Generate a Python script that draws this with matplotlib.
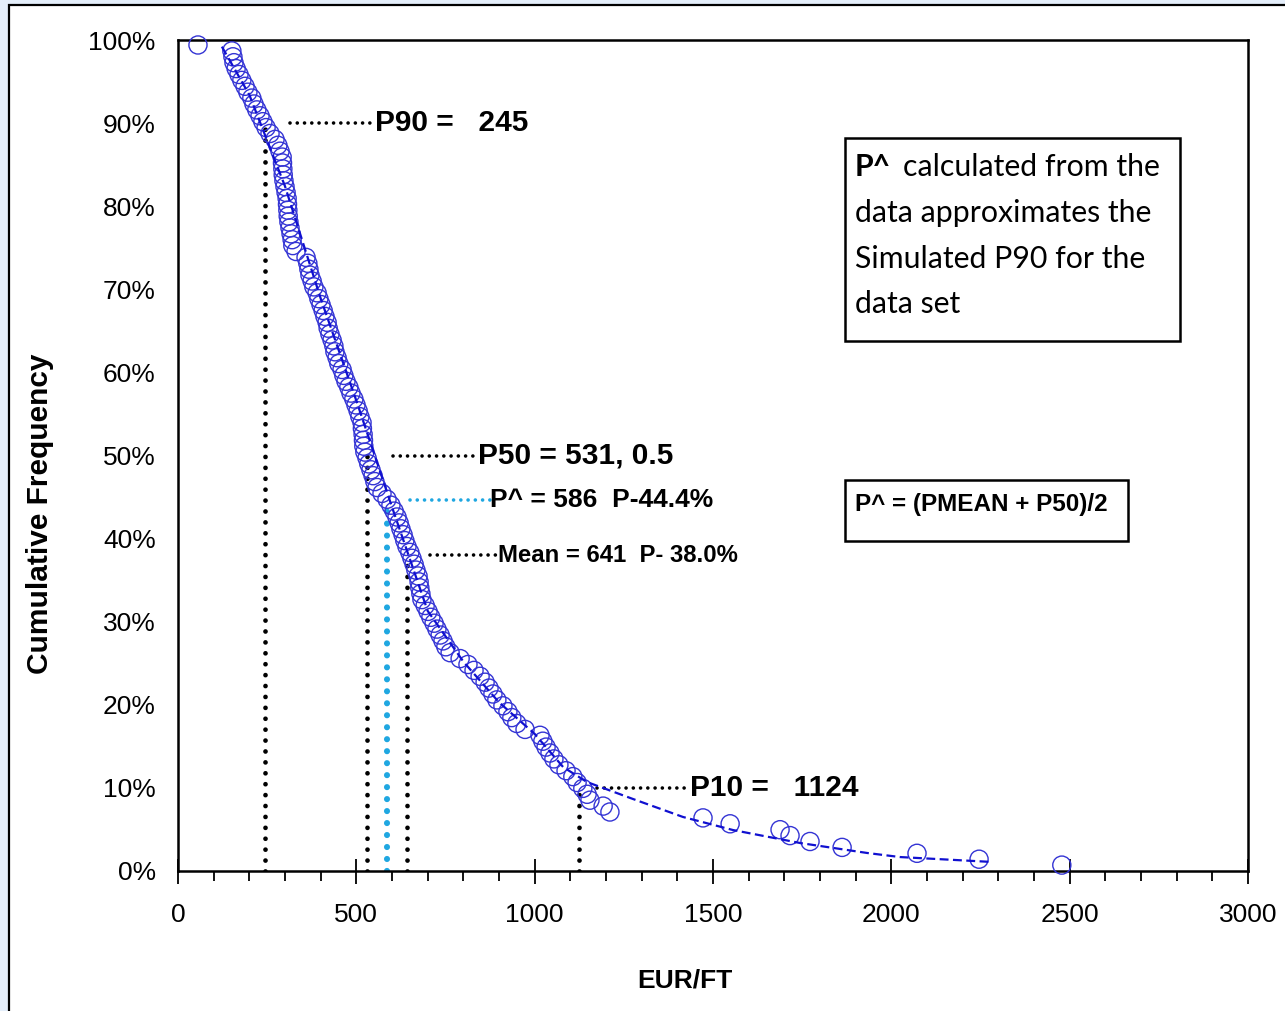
import matplotlib
matplotlib.use("Agg")
import matplotlib.pyplot as plt
from matplotlib.patches import Rectangle
from matplotlib.ticker import MultipleLocator, FuncFormatter

# sample points (EUR/FT vs cumulative frequency in %)
eur_ft = [56, 151, 154, 157, 163, 171, 179, 188, 196, 207,
          213, 221, 230, 238, 247, 258, 272, 280, 286, 292,
          293, 294, 295, 297, 300, 303, 306, 307, 308, 309,
          311, 314, 317, 320, 322, 331, 359, 364, 367, 370,
          376, 381, 390, 395, 401, 407, 412, 418, 421, 426,
          432, 437, 440, 446, 451, 460, 465, 471, 479, 485,
          493, 499, 505, 510, 516, 517, 519, 520, 521, 524,
          530, 535, 541, 547, 552, 558, 572, 586, 597, 606,
          614, 620, 625, 631, 636, 642, 650, 656, 662, 667,
          673, 676, 678, 681, 684, 693, 701, 709, 718, 726,
          735, 743, 751, 763, 791, 813, 830, 847, 861, 872,
          883, 894, 911, 925, 936, 950, 973, 1015, 1023, 1032,
          1043, 1054, 1068, 1088, 1107, 1119, 1135, 1147, 1155, 1192,
          1211, 1472, 1548, 1688, 1716, 1772, 1862, 2072, 2246, 2478]
cum_freq = [99.40, 98.69, 97.98, 97.27, 96.56, 95.85, 95.14, 94.43, 93.72, 93.01,
            92.30, 91.59, 90.88, 90.17, 89.46, 88.75, 88.04, 87.33, 86.62, 85.91,
            85.20, 84.49, 83.78, 83.07, 82.36, 81.65, 80.94, 80.23, 79.52, 78.81,
            78.10, 77.39, 76.68, 75.97, 75.26, 74.55, 73.84, 73.13, 72.42, 71.71,
            71.00, 70.29, 69.58, 68.87, 68.16, 67.45, 66.74, 66.03, 65.32, 64.61,
            63.90, 63.19, 62.48, 61.77, 61.06, 60.35, 59.64, 58.93, 58.22, 57.51,
            56.80, 56.09, 55.38, 54.67, 53.96, 53.25, 52.54, 51.83, 51.12, 50.41,
            49.70, 48.99, 48.28, 47.57, 46.86, 46.15, 45.44, 44.73, 44.02, 43.31,
            42.60, 41.89, 41.18, 40.47, 39.76, 39.05, 38.34, 37.63, 36.92, 36.21,
            35.50, 34.79, 34.08, 33.37, 32.66, 31.95, 31.24, 30.53, 29.82, 29.11,
            28.40, 27.69, 26.98, 26.27, 25.56, 24.85, 24.14, 23.43, 22.72, 22.01,
            21.30, 20.59, 19.88, 19.17, 18.46, 17.75, 17.04, 16.33, 15.62, 14.91,
            14.20, 13.49, 12.78, 12.07, 11.36, 10.65, 9.94, 9.23, 8.52, 7.81,
            7.10, 6.39, 5.68, 4.97, 4.26, 3.55, 2.84, 2.13, 1.42, 0.71]

# fitted curve
fit_x = [123, 200, 300, 400, 500, 600, 700, 800, 900, 1000,
         1080, 1147, 1276, 1416, 1556, 1744, 1932, 2024, 2277]
fit_y = [99.2, 93.4, 82.4, 68.9, 56.6, 43.8, 31.3, 25.2, 20.3, 16.5,
         12.5, 10.7, 8.66, 6.5, 4.93, 3.37, 2.17, 1.68, 1.1]

# percentile markers: value, level (%)
p90 = (245, 90.0)
p50 = (531, 50.0)
p_hat = (586, 44.4)
p_mean = (641, 38.0)
p10 = (1124, 10.0)

plt.rcParams['font.family'] = ['Liberation Sans', 'DejaVu Sans']

W, H = 1285, 1011
fig = plt.figure(figsize=(W / 100, H / 100), dpi=100, facecolor='#e4eefa')

# white page with black frame (cut off at right/bottom)
fig.patches.append(Rectangle((9 / W, -0.05), 1.1, 1 - 5 / H + 0.05, transform=fig.transFigure,
                             facecolor='white', edgecolor='black', linewidth=1.6, zorder=-5))

ax = fig.add_axes([178 / W, 1 - 871 / H, 1070 / W, 831 / H])
ax.set_facecolor('white')

blue = '#3434d4'
ax.scatter(eur_ft, cum_freq, s=170, facecolors='none', edgecolors=blue, linewidths=1.0,
           zorder=3, clip_on=False)
ax.plot(fit_x, fit_y, color='#1010d0', linestyle=(0, (4, 2)), linewidth=1.6, zorder=4)

# vertical dotted lines down to the axis
for val, lvl in [p90, p50, p_mean, p10]:
    ax.plot([val, val], [0, lvl], color='black', linewidth=3.4, linestyle=(0, (0.01, 2.3)),
            dash_capstyle='round', zorder=2)
ax.plot([p_hat[0], p_hat[0]], [0, p_hat[1]], color='#1fa7e1', linewidth=4.4,
        linestyle=(0, (0.01, 1.95)), dash_capstyle='round', zorder=2)

# leader lines + labels
leaders = [
    (p90[1], 314, 552, 'black', 'P90 =   245', 21.5),
    (p50[1], 603, 841, 'black', 'P50 = 531, 0.5', 21.5),
    (44.6, 650, 875, '#1fa7e1', 'P^ = 586  P-44.4%', 19),
    (p_mean[1], 707, 897, 'black', 'Mean = 641  P- 38.0%', 17.2),
    (p10[1], 1175, 1435, 'black', 'P10 =   1124', 21.5),
]
for lvl, x0, x1, col, label, fs in leaders:
    ax.plot([x0, x1], [lvl, lvl], color=col, linewidth=2.6, linestyle=(0, (0.01, 2.0)),
            dash_capstyle='round', zorder=2)
    ax.text(x1, lvl, label, fontsize=fs, fontweight='bold', ha='left', va='center', zorder=5)

ax.set_xlim(0, 3000)
ax.set_ylim(0, 100)
ax.xaxis.set_major_locator(MultipleLocator(500))
ax.xaxis.set_minor_locator(MultipleLocator(100))
ax.yaxis.set_major_locator(MultipleLocator(10))
ax.yaxis.set_major_formatter(FuncFormatter(lambda v, p: '%d%%' % v))
ax.tick_params(axis='x', which='major', direction='inout', length=18, width=1.3,
               labelsize=19, pad=14)
ax.tick_params(axis='x', which='minor', direction='out', length=7, width=1.3)
ax.tick_params(axis='y', length=0, labelsize=19, pad=16)
for sp in ax.spines.values():
    sp.set_linewidth(1.8)

ax.set_xlabel('EUR/FT', fontsize=19, fontweight='bold')
ax.xaxis.set_label_coords((685 - 178) / 1070, -(968 - 871) / 831)
ax.set_ylabel('Cumulative Frequency', fontsize=21.5, fontweight='bold')
ax.yaxis.set_label_coords(-(178 - 54) / 1070, (871 - 514) / 831)

# explanation boxes
fig.patches.append(Rectangle((845 / W, 1 - 341 / H), 335 / W, 203 / H, transform=fig.transFigure,
                             facecolor='white', edgecolor='black', linewidth=1.8, zorder=5))
box_font = ['Lato', 'DejaVu Sans']
fs_box = 21.8
fig.text(855 / W, 1 - 167 / H, 'P^', fontsize=fs_box, fontweight='bold', family=box_font, va='center', zorder=6)
fig.text(903 / W, 1 - 167 / H, 'calculated from the', fontsize=fs_box, family=box_font, va='center', zorder=6)
fig.text(855 / W, 1 - 213 / H, 'data approximates the', fontsize=fs_box, family=box_font, va='center', zorder=6)
fig.text(855 / W, 1 - 259 / H, 'Simulated P90 for the', fontsize=fs_box, family=box_font, va='center', zorder=6)
fig.text(855 / W, 1 - 304 / H, 'data set', fontsize=fs_box, family=box_font, va='center', zorder=6)

fig.patches.append(Rectangle((845 / W, 1 - 541 / H), 283 / W, 61 / H, transform=fig.transFigure,
                             facecolor='white', edgecolor='black', linewidth=1.8, zorder=5))
fig.text(855 / W, 1 - 505 / H, 'P^ = (PMEAN + P50)/2', fontsize=17.5,
         fontweight='bold', va='center', zorder=6)

fig.savefig('out.png', dpi=100, facecolor=fig.get_facecolor())
